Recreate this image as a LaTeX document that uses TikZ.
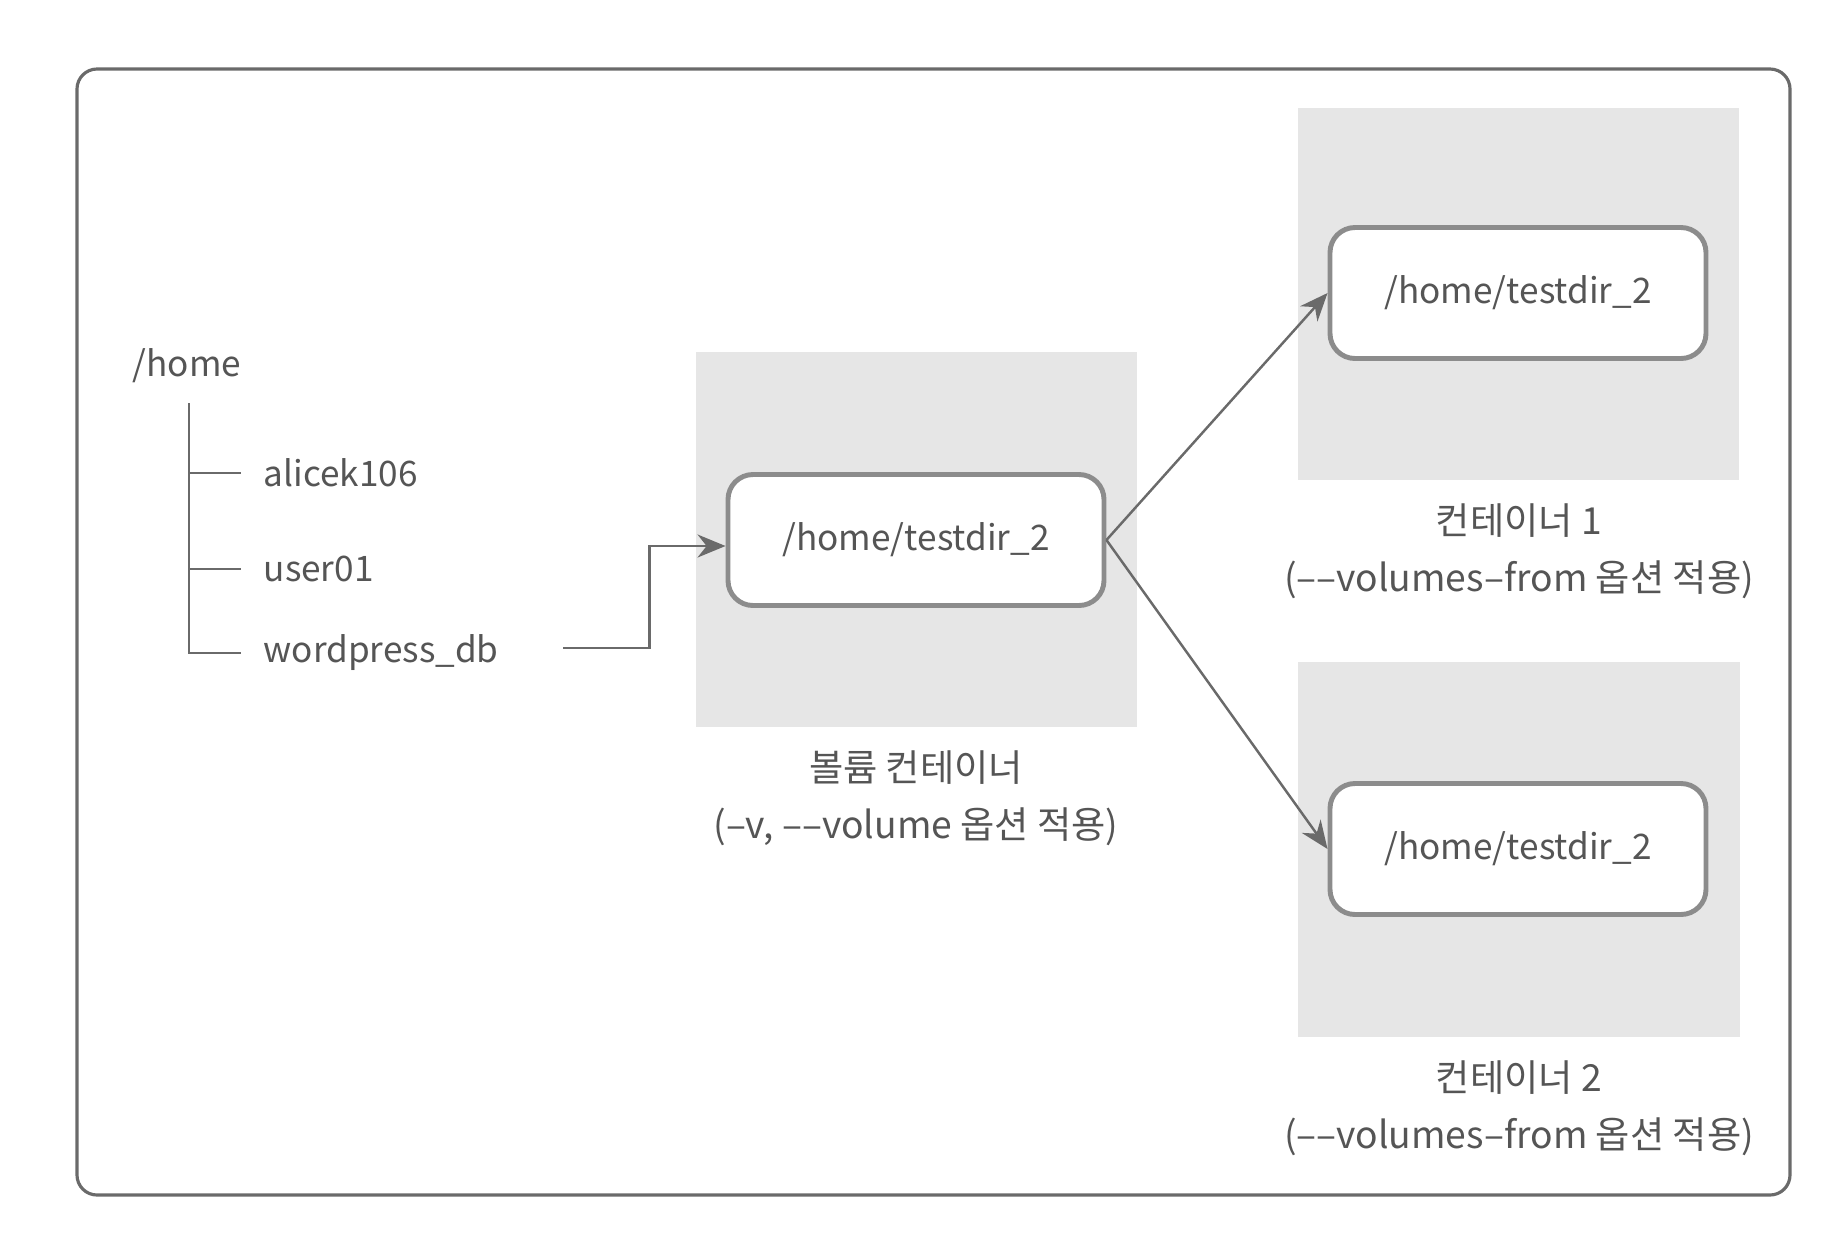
\documentclass[tikz,border=0pt]{standalone}
\usepackage{fontspec}
\setmainfont{Noto Sans CJK KR}
\usetikzlibrary{arrows.meta}
\definecolor{inkgray}{HTML}{555555}
\definecolor{linegray}{HTML}{6A6A6A}
\definecolor{boxgray}{HTML}{8C8C8C}
\definecolor{shadegray}{HTML}{E6E6E6}
\tikzset{
  label/.style={text=inkgray,font=\fontsize{10}{12}\selectfont,inner sep=0pt},
  caption/.style={label,font=\fontsize{10.6}{12}\selectfont},
  dirbox/.style={draw=boxgray,line width=1.4pt,fill=white,rounded corners=2.5mm,
    minimum width=3.76cm,minimum height=1.31cm,text=inkgray,font=\fontsize{10}{12}\selectfont},
  link/.style={draw=linegray,line width=0.7pt,-{Stealth[length=2.8mm,width=2.3mm]}}
}
\begin{document}
\begin{tikzpicture}
\useasboundingbox (0,0) rectangle (18.44,-12.32);
% outer frame
\draw[linegray,line width=0.9pt,rounded corners=2mm] (0.77,-0.69) rectangle (17.90,-11.95);
% shaded containers
\fill[shadegray] (6.96,-3.52) rectangle (11.37,-7.27);
\fill[shadegray] (12.98,-1.08) rectangle (17.39,-4.80);
\fill[shadegray] (12.98,-6.62) rectangle (17.40,-10.37);
% directory tree
\node[label,anchor=west] (home) at (1.32,-3.66) {/home};
\node[label,anchor=west] (alice) at (2.63,-4.73) {alicek106};
\node[label,anchor=west] (user) at (2.63,-5.69) {user01};
\node[label,anchor=west] (wp) at (2.63,-6.53) {wordpress\_db};
\coordinate (trunk) at (1.89,-4.03);
\path[draw,linegray,line width=0.7pt] (trunk) |- ([xshift=-2.2mm]wp.west);
\path[draw,linegray,line width=0.7pt] (trunk) |- ([xshift=-2.2mm]alice.west);
\path[draw,linegray,line width=0.7pt] (trunk) |- ([xshift=-2.2mm]user.west);
% volume container and the two containers
\node[dirbox] (vol) at (9.16,-5.40) {/home/testdir\_2};
\node[dirbox] (c1) at (15.18,-2.93) {/home/testdir\_2};
\node[dirbox] (c2) at (15.18,-8.49) {/home/testdir\_2};
\node[caption] (vollab) at (9.16,-7.68) {볼륨 컨테이너};
\node[caption] (volopt) at (9.16,-8.27) {(–v, ––volume 옵션 적용)};
\node[caption] (c1lab) at (15.19,-5.21) {컨테이너 1};
\node[caption] (c1opt) at (15.19,-5.80) {(––volumes–from 옵션 적용)};
\node[caption] (c2lab) at (15.19,-10.78) {컨테이너 2};
\node[caption] (c2opt) at (15.19,-11.37) {(––volumes–from 옵션 적용)};
% connectors
\path[link] ([xshift=6.4mm,yshift=0.5mm]wp.east) -- ++(0.86,0) |- ([yshift=-0.6mm]vol.west);
\path[link] (vol.east) -- (c1.west);
\path[link] (vol.east) -- (c2.west);
\end{tikzpicture}
\end{document}
